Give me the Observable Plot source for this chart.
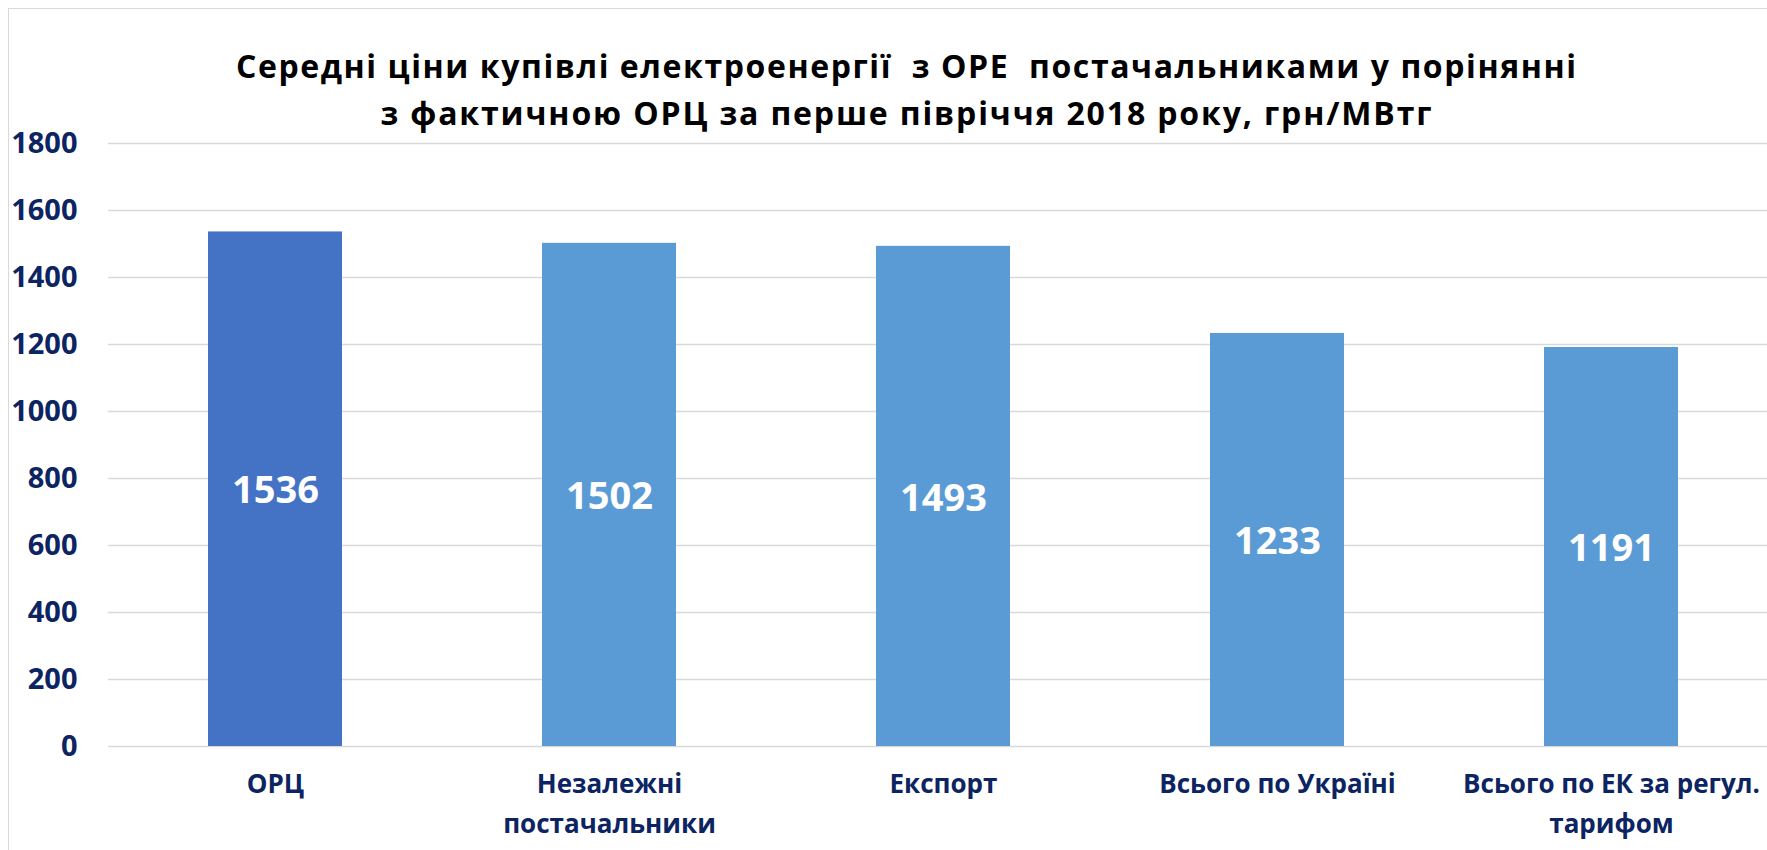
<!DOCTYPE html>
<html>
<head>
<meta charset="utf-8">
<script src="https://cdn.jsdelivr.net/npm/d3@7"></script>
<script src="https://cdn.jsdelivr.net/npm/@observablehq/plot@0.6"></script>
<style>
  html, body { margin: 0; padding: 0; background: #fff; overflow: hidden; width: 1767px; height: 850px; }
  #frame { position: absolute; left: 8px; top: 8px; width: 1820px; height: 900px; border: 1.5px solid #d9d9d9; box-sizing: border-box; }
  #chart { position: absolute; left: 0; top: 0; }
  #chart svg { overflow: visible; max-width: none !important; }
  #title { position: absolute; left: 0; top: 0; }
</style>
</head>
<body>
<div id="frame"></div>
<div id="chart"></div>
<svg id="title" width="1767" height="150"></svg>
<script>
const titleLines = [
  "Середні ціни купівлі електроенергії  з ОРЕ  постачальниками у порінянні",
  "з фактичною ОРЦ за перше півріччя 2018 року, грн/МВтг"
];
const categories = ["ОРЦ", "Незалежні постачальники", "Експорт", "Всього по Україні", "Всього по ЕК за регул. тарифом"];
const tickLabels = ["ОРЦ", "Незалежні\nпостачальники", "Експорт", "Всього по Україні", "Всього по ЕК за регул.\nтарифом"];
const values = [1536, 1502, 1493, 1233, 1191];
const yTicks = [0, 200, 400, 600, 800, 1000, 1200, 1400, 1600, 1800];

const ORC_COLOR = "#4472C4";
const BAR_COLOR = "#5B9BD5";
const AXIS_COLOR = "#0C2461";
const FONT = "'Open Sans', sans-serif";

// Title (two centred lines, stretched to the reference widths)
const titleLayout = [{y: 78, len: 1340}, {y: 125, len: 1051}];
d3.select("#title").selectAll("text").data(titleLines).join("text")
  .attr("x", 906)
  .attr("y", (d, i) => titleLayout[i].y)
  .attr("text-anchor", "middle")
  .attr("textLength", (d, i) => titleLayout[i].len)
  .attr("lengthAdjust", "spacing")
  .style("font-family", FONT)
  .style("font-weight", "700")
  .style("font-size", "32px")
  .style("white-space", "pre")
  .attr("xml:space", "preserve")
  .attr("fill", "#000")
  .text(d => d);

const data = categories.map((c, i) => ({category: c, value: values[i]}));

const chart = Plot.plot({
  width: 1790,
  height: 850,
  marginLeft: 108,
  marginRight: 12,
  marginTop: 143,
  marginBottom: 104,
  style: {fontFamily: FONT, background: "transparent", maxWidth: "none"},
  x: {domain: categories, paddingInner: 0.6, paddingOuter: 0.3, label: null},
  y: {domain: [0, 1800], label: null},
  marks: [
    Plot.gridY(yTicks, {stroke: "#d9d9d9", strokeOpacity: 1, strokeWidth: 1.6}),
    Plot.barY(data, {x: "category", y: "value", fill: (d, i) => i === 0 ? ORC_COLOR : BAR_COLOR}),
    Plot.axisY(yTicks, {tickSize: 0, tickPadding: 31, fontSize: 29, fontWeight: "bold", fill: AXIS_COLOR,
                        tickFormat: d => String(d), label: null}),
    Plot.axisX({tickSize: 0, tickPadding: 18, fontSize: 26, fontWeight: "bold", fill: AXIS_COLOR, lineHeight: 1.54,
                tickFormat: c => tickLabels[categories.indexOf(c)], label: null}),
    Plot.text(data, {x: "category", y: d => d.value / 2, text: d => String(d.value), fill: "white",
                     fontSize: 38, fontWeight: "bold", dy: 2})
  ]
});
document.getElementById("chart").appendChild(chart);
</script>
</body>
</html>
